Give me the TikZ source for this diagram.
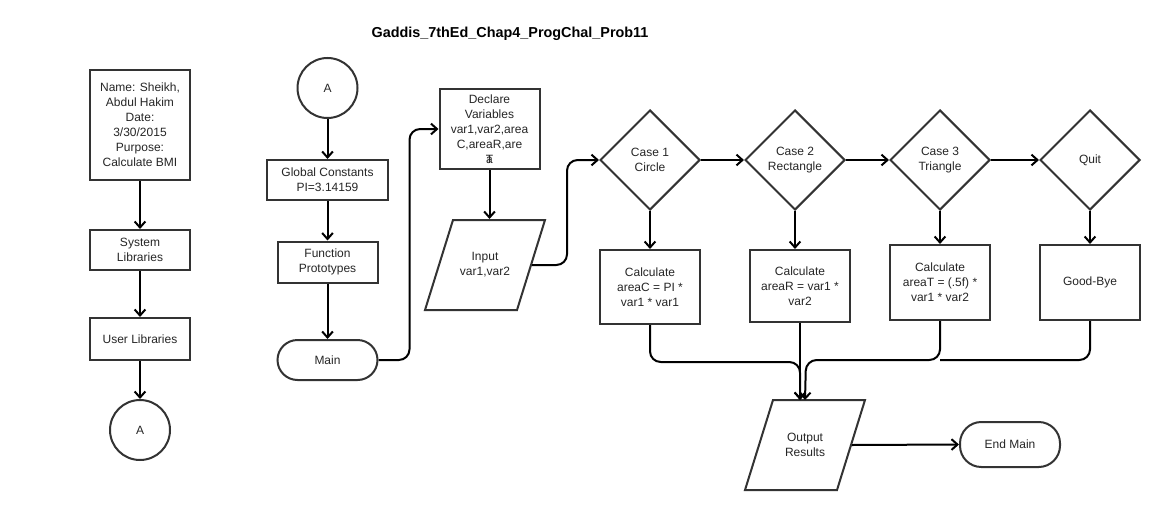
\documentclass[tikz,border=0pt]{standalone}
\usepackage{fontspec}
\setmainfont{Liberation Sans}
\usetikzlibrary{arrows.meta,shapes.geometric}
\definecolor{lineGray}{HTML}{333333}
\definecolor{textGray}{HTML}{262626}

\tikzset{
  procBox/.style={draw=lineGray,fill=white,rectangle,minimum width=75pt,minimum height=30pt},
  decBox/.style={draw=lineGray,fill=white,diamond,aspect=1,inner sep=0pt,minimum width=75pt,minimum height=75pt},
  ioBox/.style={draw=lineGray,fill=white,rectangle,xslant=0.311,minimum width=69pt,minimum height=67.5pt},
  termBox/.style={draw=lineGray,fill=white,rectangle,rounded corners=15pt,minimum width=75pt,minimum height=30pt},
  connCirc/.style={draw=lineGray,fill=white,circle,minimum size=45pt}
}

\begin{document}
\begin{tikzpicture}[x=0.75pt,y=-0.75pt,line width=1.5pt,
  >={Straight Barb[length=4.5pt,width=8pt]},
  every node/.style={font=\fontsize{9}{11.25}\selectfont,text=textGray,align=center,inner sep=1pt}]
\useasboundingbox (0,0) rectangle (1166,510);

\node[font=\fontsize{10.8}{13}\selectfont\bfseries,text=black] (title) at (510,34) {Gaddis\_7thEd\_Chap4\_ProgChal\_Prob11};

% left column
\node[procBox,minimum height=82.5pt] (info) at (140,125) {Name: Sheikh,\\Abdul Hakim\\Date:\\3/30/2015\\Purpose:\\Calculate BMI};
\node[procBox] (sysLib) at (140,250) {System\\Libraries};
\node[procBox,minimum height=31.5pt] (userLib) at (140,339) {User Libraries};
\node[connCirc] (conOut) at (140,430) {A};
\draw[->] (info) -- (sysLib);
\draw[->] (sysLib) -- (userLib);
\draw[->] (userLib) -- (conOut);

% main start
\node[connCirc] (conIn) at (327.5,88) {A};
\node[procBox,minimum width=90.75pt] (globConst) at (327.5,180) {Global Constants\\PI=3.14159};
\node[procBox,minimum height=30.75pt] (funcProto) at (327.5,262) {Function\\Prototypes};
\node[termBox] (mainStart) at (327.5,360) {Main};
\draw[->] (conIn) -- (globConst);
\draw[->] (globConst) -- (funcProto);
\draw[->] (funcProto) -- (mainStart);

\node[procBox,minimum height=60pt] (declVars) at (489.5,129) {Declare\\Variables\\var1,var2,area\\C,areaR,are\\\makebox[0pt]{a}\makebox[0pt]{T}};
\node[ioBox] (inVars) at (485,265) {};
\node (inVarsText) at (inVars.center) {Input\\var1,var2};
\draw[->,rounded corners=8pt] (mainStart.east) -- ++(31,0) |- (declVars.west);
\draw[->] (declVars.south) -- (declVars.south |- inVars.north);

% menu cases
\node[decBox] (caseC) at (650,160) {Case 1\\Circle};
\node[decBox] (caseR) at (795,160) {Case 2\\Rectangle};
\node[decBox] (caseT) at (940,160) {Case 3\\Triangle};
\node[decBox] (caseQ) at (1090,160) {Quit};
\node[procBox,minimum height=55.5pt] (calcC) at (650,287) {Calculate\\areaC = PI *\\var1 * var1};
\node[procBox,minimum height=54pt] (calcR) at (800,286) {Calculate\\areaR = var1 *\\var2};
\node[procBox,minimum height=56.25pt] (calcT) at (940,282.5) {Calculate\\areaT = (.5f) *\\var1 * var2};
\node[procBox,minimum height=56.25pt] (byeMsg) at (1090,282.5) {Good-Bye};
\draw[->,rounded corners=8pt] (inVars.east) -- ++(35,0) |- (caseC.west);
\foreach \a/\b in {caseC/caseR,caseR/caseT,caseT/caseQ}
  \draw[->] (\a.east) -- (\b.west);
\foreach \a/\b in {caseC/calcC,caseR/calcR,caseT/calcT,caseQ/byeMsg}
  \draw[->] (\a.south) -- (\a.south |- \b.north);

% output
\node[ioBox] (outRes) at (805,445) {};
\node (outResText) at (outRes.center) {Output\\Results};
\node[termBox,rounded corners=16pt,minimum height=33.75pt] (mainEnd) at (1010,444.5) {End Main};
\coordinate (mergeA) at (800,400);
\coordinate (mergeB) at (805,400);
\coordinate (busL) at (800,362);
\coordinate (busR) at (806,360);
\draw[->,rounded corners=8pt] (calcC.south) |- (busL) -- (mergeA);
\draw[->] (calcR.south) -- (mergeA);
\draw[->,rounded corners=8pt] (calcT.south) |- (busR) -- (mergeB);
\draw[rounded corners=8pt] (byeMsg.south) |- (calcT.south |- busR);
\draw[->] (outRes.east) -- (mainEnd.west);
\end{tikzpicture}
\end{document}
